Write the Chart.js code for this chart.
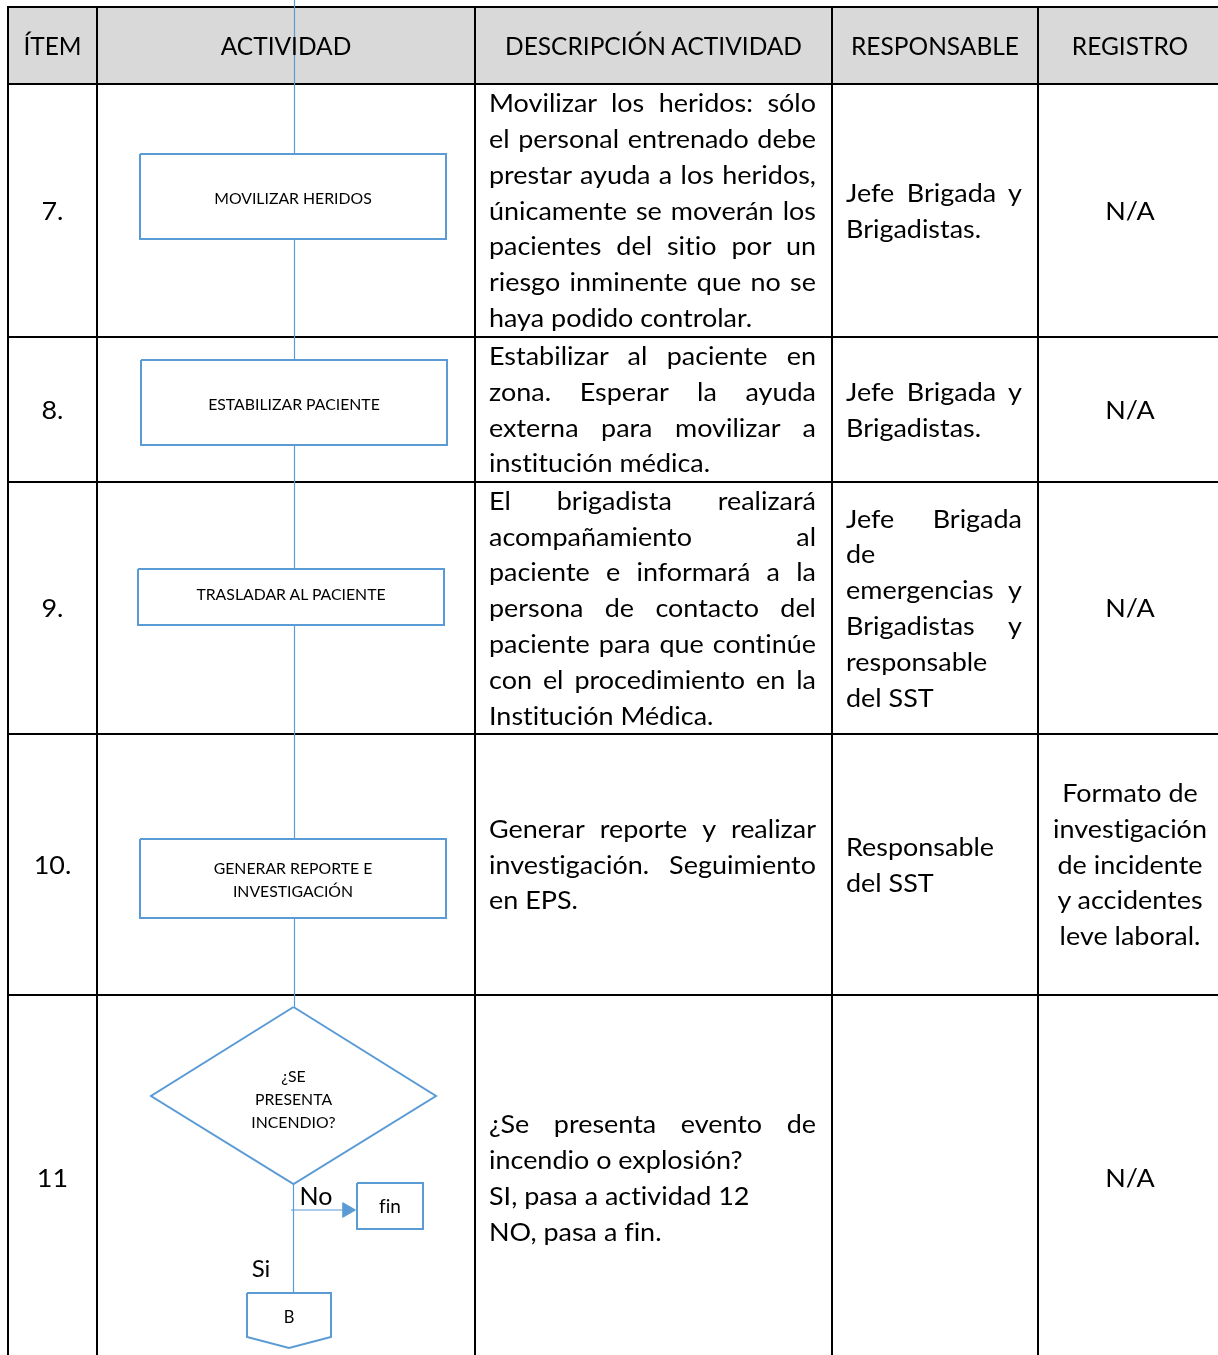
<!DOCTYPE html>
<html>
<head>
<meta charset="utf-8">
<script src="https://cdn.jsdelivr.net/npm/chart.js"></script>
<style>
body{margin:0;background:#fff;}
#hoja{position:relative;width:1218px;height:1355px;overflow:hidden;font-variant-ligatures:none;}
#flujo{position:absolute;left:0;top:0;}
.celda{position:absolute;box-sizing:border-box;display:flex;flex-direction:column;justify-content:center;font-family:Lato,sans-serif;color:#000;font-size:24.5px;line-height:35.8px;}
.interior{transform-origin:left center;}
.just{text-align:justify;text-align-last:justify;}
.centro{text-align:center;}
.rotulo{position:absolute;transform:translate(-50%,-50%);font-family:Lato,sans-serif;color:#000;text-align:center;white-space:nowrap;}
</style>
</head>
<body>
<div id="hoja">
<canvas id="flujo" width="1218" height="1355"></canvas>
</div>
<script>
// datos de la tabla
var encabezados = ["ÍTEM", "ACTIVIDAD", "DESCRIPCIÓN ACTIVIDAD", "RESPONSABLE", "REGISTRO"];
var items = ["7.", "8.", "9.", "10.", "11"];
var actividades = [
  ["MOVILIZAR HERIDOS"],
  ["ESTABILIZAR PACIENTE"],
  ["TRASLADAR AL PACIENTE"],
  ["GENERAR REPORTE E", "INVESTIGACIÓN"],
  ["¿SE", "PRESENTA", "INCENDIO?"]
];
var descripciones = [
  [["Movilizar los heridos: sólo", "el personal entrenado debe", "prestar ayuda a los heridos,", "únicamente se moverán los", "pacientes del sitio por un", "riesgo inminente que no se", "haya podido controlar."]],
  [["Estabilizar al paciente en", "zona. Esperar la ayuda", "externa para movilizar a", "institución médica."]],
  [["El brigadista realizará", "acompañamiento al", "paciente e informará a la", "persona de contacto del", "paciente para que continúe", "con el procedimiento en la", "Institución Médica."]],
  [["Generar reporte y realizar", "investigación.  Seguimiento", "en EPS."]],
  [["¿Se presenta evento de", "incendio o explosión?"], ["SI, pasa a actividad 12"], ["NO, pasa a fin."]]
];
var responsables = [
  [["Jefe Brigada y", "Brigadistas."]],
  [["Jefe Brigada y", "Brigadistas."]],
  [["Jefe Brigada", "de", "emergencias y", "Brigadistas y", "responsable", "del SST"]],
  [["Responsable", "del SST"]],
  []
];
var registros = [
  ["N/A"],
  ["N/A"],
  ["N/A"],
  ["Formato de", "investigación", "de incidente", "y accidentes", "leve laboral."],
  ["N/A"]
];
var ramas = ["No", "Si"];
var conectores = ["fin", "B"];

// disposición de la tabla (px)
var colX = [8, 97, 475, 832, 1038, 1222];
var filaY = [7, 84, 337, 482, 734, 995, 1361];
var cajas = [[140, 154, 446, 239], [141, 360, 447, 445], [138, 569, 444, 625], [140, 839, 446, 918]];
var rombo = {cx: 293.5, top: 1007, bottom: 1184, left: 151, right: 436};
var cajaFin = [357, 1183, 423, 1229];
var cajaB = [247, 1293, 331, 1337, 1348];
var azul = '#5b9bd5';
var ancho = 1.1; // el texto del original es algo más ancho que Lato

var hoja = document.getElementById('hoja');

function ponerCelda(x1, y1, x2, y2, parrafos, tipo, k) {
  var pl = tipo == 'just' ? 13 : 0, pr = tipo == 'just' ? 15 : 0;
  var d = document.createElement('div');
  d.className = 'celda';
  d.style.left = (x1 + 1 + pl) + 'px';
  d.style.top = (y1 + 1) + 'px';
  d.style.height = (y2 - y1 - 2) + 'px';
  var w = x2 - x1 - 2 - pl - pr;
  var inn = document.createElement('div');
  inn.className = 'interior';
  inn.style.width = (w / k) + 'px';
  inn.style.transform = 'scaleX(' + k + ')';
  parrafos.forEach(function (lineas) {
    lineas.forEach(function (l, i) {
      var s = document.createElement('div');
      s.textContent = l;
      if (tipo == 'just' && i < lineas.length - 1) s.className = 'just';
      if (tipo == 'centro') s.className = 'centro';
      inn.appendChild(s);
    });
  });
  d.appendChild(inn);
  hoja.appendChild(d);
}

function ponerRotulo(x, y, lineas, tam, alto) {
  var d = document.createElement('div');
  d.className = 'rotulo';
  d.style.left = x + 'px';
  d.style.top = y + 'px';
  d.style.fontSize = tam + 'px';
  d.style.lineHeight = alto + 'px';
  lineas.forEach(function (l) {
    var s = document.createElement('div');
    s.textContent = l;
    d.appendChild(s);
  });
  hoja.appendChild(d);
}

// textos de la tabla
encabezados.forEach(function (t, c) {
  ponerCelda(colX[c], filaY[0], colX[c + 1], filaY[1], [[t]], 'centro', 1);
});
for (var f = 0; f < items.length; f++) {
  var y1 = filaY[f + 1], y2 = filaY[f + 2];
  ponerCelda(colX[0], y1, colX[1], y2, [[items[f]]], 'centro', ancho);
  ponerCelda(colX[2], y1, colX[3], y2, descripciones[f], 'just', ancho);
  ponerCelda(colX[3], y1, colX[4], y2, responsables[f], 'just', ancho);
  ponerCelda(colX[4], y1, colX[5], y2, [registros[f]], 'centro', ancho);
}

// rótulos del diagrama
cajas.forEach(function (b, i) {
  ponerRotulo((b[0] + b[2]) / 2, (b[1] + b[3]) / 2 - (i == 2 ? 4 : 0), actividades[i], 15.8, 23);
});
ponerRotulo(rombo.cx, (rombo.top + rombo.bottom) / 2 + 2, actividades[4], 15.8, 23);
ponerRotulo(316, 1195, [ramas[0]], 25, 28);
ponerRotulo(261, 1268, [ramas[1]], 24, 28);
ponerRotulo((cajaFin[0] + cajaFin[2]) / 2, (cajaFin[1] + cajaFin[3]) / 2, [conectores[0]], 19, 22);
ponerRotulo((cajaB[0] + cajaB[2]) / 2, 1317, [conectores[1]], 16.5, 20);

// trazos en Chart.js
var trazos = [];
function linea(puntos, color, grosor, orden, relleno) {
  trazos.push({
    data: puntos.map(function (p) { return {x: p[0], y: p[1]}; }),
    showLine: true,
    borderColor: color,
    borderWidth: grosor,
    pointRadius: 0,
    fill: relleno ? 'shape' : false,
    backgroundColor: relleno || 'transparent',
    order: orden,
    tension: 0
  });
}
function rect(b) {
  return [[b[0], b[1]], [b[2], b[1]], [b[2], b[3]], [b[0], b[3]], [b[0], b[1]]];
}

// rejilla negra
filaY.forEach(function (y) { linea([[colX[0] - 1, y], [colX[5] + 1, y]], '#000', 2, 40); });
colX.forEach(function (x) { linea([[x, filaY[0]], [x, filaY[6]]], '#000', 2, 40); });
// conectores
linea([[294.5, 0], [294.5, rombo.top]], azul, 1.2, 30);
linea([[rombo.cx, rombo.bottom], [rombo.cx, cajaB[1]]], azul, 1.2, 30);
linea([[291, 1210], [346, 1210]], azul, 1.2, 30);
// cajas y figuras
cajas.forEach(function (b) { linea(rect(b), azul, 2, 10, '#fff'); });
linea([[rombo.cx, rombo.top], [rombo.right, 1096], [rombo.cx, rombo.bottom], [rombo.left, 1096], [rombo.cx, rombo.top]], azul, 2, 10, '#fff');
linea(rect(cajaFin), azul, 2, 10, '#fff');
linea([[cajaB[0], cajaB[1]], [cajaB[2], cajaB[1]], [cajaB[2], cajaB[3]], [(cajaB[0] + cajaB[2]) / 2, cajaB[4]], [cajaB[0], cajaB[3]], [cajaB[0], cajaB[1]]], azul, 2, 10, '#fff');
// punta de flecha
trazos.push({
  data: [{x: 347, y: 1210}],
  pointStyle: 'triangle',
  rotation: 90,
  pointRadius: 8.5,
  pointBackgroundColor: azul,
  pointBorderColor: azul,
  pointBorderWidth: 1,
  showLine: false,
  order: 5
});

var fondoEncabezado = {
  id: 'fondoEncabezado',
  beforeDatasetsDraw: function (chart) {
    var ctx = chart.ctx, sx = chart.scales.x, sy = chart.scales.y;
    ctx.save();
    ctx.fillStyle = '#d9d9d9';
    var x1 = sx.getPixelForValue(colX[0]), x2 = sx.getPixelForValue(colX[5]);
    var y1 = sy.getPixelForValue(filaY[0]), y2 = sy.getPixelForValue(filaY[1]);
    ctx.fillRect(x1, y1, x2 - x1, y2 - y1);
    ctx.restore();
  }
};

new Chart(document.getElementById('flujo').getContext('2d'), {
  type: 'scatter',
  data: {datasets: trazos},
  options: {
    responsive: false,
    animation: false,
    events: [],
    layout: {padding: 0, autoPadding: false},
    scales: {
      x: {type: 'linear', min: 0, max: 1218, display: false},
      y: {type: 'linear', min: 0, max: 1355, reverse: true, display: false}
    },
    plugins: {legend: {display: false}, tooltip: {enabled: false}}
  },
  plugins: [fondoEncabezado]
});
</script>
</body>
</html>
